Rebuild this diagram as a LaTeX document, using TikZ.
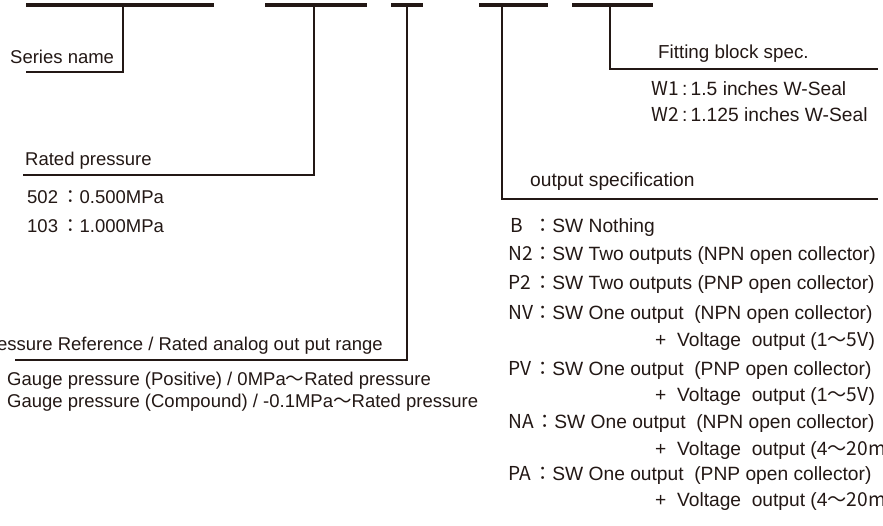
\documentclass[tikz,border=0pt]{standalone}
\usepackage{fontspec}
\setmainfont{Liberation Sans}
\newfontfamily\cjk{Noto Sans CJK JP}
\definecolor{ink}{HTML}{231815}
\begin{document}
\begin{tikzpicture}[x=1pt, y=-1pt,
  bar/.style={line width=4pt, ink},
  lead/.style={line width=1.3pt, ink},
  lbl/.style={anchor=base west, inner sep=0pt, font=\fontsize{18.5}{20}\selectfont, text=ink},
  rlbl/.style={lbl, font=\fontsize{19.2}{21}\selectfont},
  code/.style={lbl, font=\fontsize{19.2}{21}\selectfont\cjk},
]
\useasboundingbox[fill=white] (0,0) rectangle (883,526);
% code bars
\coordinate (b1a) at (26,5);  \coordinate (b1b) at (214,5);
\coordinate (b2a) at (265,5); \coordinate (b2b) at (367,5);
\coordinate (b3a) at (391,5); \coordinate (b3b) at (423,5);
\coordinate (b4a) at (479,5); \coordinate (b4b) at (548,5);
\coordinate (b5a) at (572,5); \coordinate (b5b) at (653,5);
\draw[bar] (b1a)--(b1b); \draw[bar] (b2a)--(b2b); \draw[bar] (b3a)--(b3b);
\draw[bar] (b4a)--(b4b); \draw[bar] (b5a)--(b5b);
% leader lines
\coordinate (t1) at (123,5); \coordinate (e1) at (26,72);
\coordinate (t2) at (314,5); \coordinate (e2) at (23,175);
\coordinate (t3) at (407,5); \coordinate (e3) at (15,360);
\coordinate (t4) at (502,5); \coordinate (e4) at (878,199);
\coordinate (t5) at (610,5); \coordinate (e5) at (878,69);
\draw[lead] (t1) |- (e1); \draw[lead] (t2) |- (e2); \draw[lead] (t3) |- (e3);
\draw[lead] (t4) |- (e4); \draw[lead] (t5) |- (e5);
% left side
\node[lbl] (series) at (10,64) {Series name};
\node[lbl] (rated) at (25,166) {Rated pressure};
\node[lbl] (r502) at (27,204) {502\,{\cjk ：}0.500MPa};
\node[lbl] (r103) at (27,233) {103\,{\cjk ：}1.000MPa};
\node[lbl, anchor=base east] (ref) at (383,350) {Pressure Reference / Rated analog out put range};
\node[lbl] (gpos) at (7,385) {Gauge pressure (Positive) / 0MPa{\cjk ～}Rated pressure};
\node[lbl] (gcmp) at (7,407) {Gauge pressure (Compound) / -0.1MPa{\cjk ～}Rated pressure};
% fitting block
\node[lbl, font=\fontsize{18.8}{20}\selectfont] (fit) at (658,59) {Fitting block spec.};
\node[code] (w1) at (651,96) {W1};
\node[rlbl] (w1t) at (682,96) {:\,1.5 inches W-Seal};
\node[code] (w2) at (651,122) {W2};
\node[rlbl] (w2t) at (682,122) {:\,1.125 inches W-Seal};
% output specification
\node[rlbl] (outspec) at (530,187) {output specification};
\node[code] (cb)  at (510,233) {B};
\node[rlbl] (cbt) at (533,233) {{\cjk ：}SW Nothing};
\node[code] (cn2)  at (508,261) {N2};
\node[rlbl] (cn2t) at (533,261) {{\cjk ：}SW Two outputs (NPN open collector)};
\node[code] (cp2)  at (508,290) {P2};
\node[rlbl] (cp2t) at (533,290) {{\cjk ：}SW Two outputs (PNP open collector)};
\node[code] (cnv)  at (508,320) {NV};
\node[rlbl] (cnvt) at (533,320) {{\cjk ：}SW One output\ \ (NPN open collector)};
\node[rlbl] (cnvv) at (655,347) {+\ \ Voltage\ \ output (1{\cjk ～5V})};
\node[code] (cpv)  at (508,375) {PV};
\node[rlbl] (cpvt) at (533,375) {{\cjk ：}SW One output\ \ (PNP open collector)};
\node[rlbl] (cpvv) at (655,401) {+\ \ Voltage\ \ output (1{\cjk ～5V})};
\node[code] (cna)  at (508,428) {NA};
\node[rlbl] (cnat) at (535,428) {{\cjk ：}SW One output\ \ (NPN open collector)};
\node[rlbl] (cnav) at (655,455) {+\ \ Voltage\ \ output (4{\cjk ～20mA）}};
\node[code] (cpa)  at (508,480) {PA};
\node[rlbl] (cpat) at (533,480) {{\cjk ：}SW One output\ \ (PNP open collector)};
\node[rlbl] (cpav) at (655,506) {+\ \ Voltage\ \ output (4{\cjk ～20mA）}};
\end{tikzpicture}
\end{document}
